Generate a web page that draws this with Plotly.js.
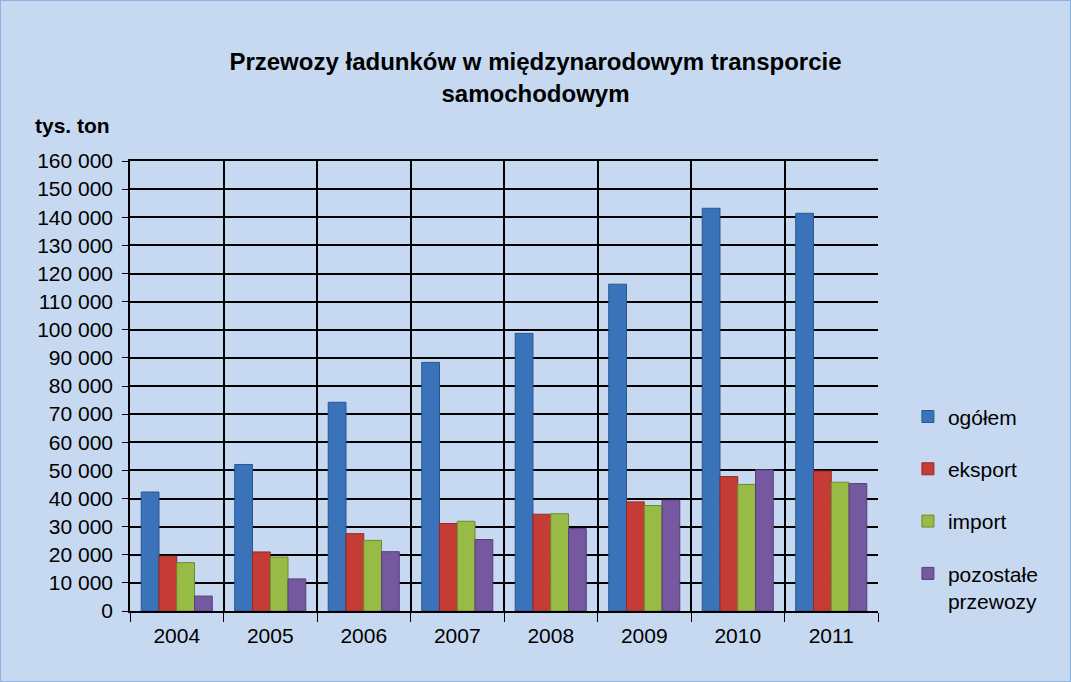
<!DOCTYPE html>
<html>
<head>
<meta charset="utf-8">
<script src="https://cdn.plot.ly/plotly-3.0.1.min.js"></script>
<style>
  body { margin: 0; background: #fff; }
  #plot { width: 1069px; height: 680px; border: 1px solid #8db3e2; }
</style>
</head>
<body>
<div id="plot"></div>
<script>
// Lata (kategorie)
let years = ["2004", "2005", "2006", "2007", "2008", "2009", "2010", "2011"];

// Wartości w tys. ton
let ogolem = [42300, 52100, 74200, 88400, 98700, 116200, 143200, 141400];
let eksport = [19500, 21000, 27500, 31100, 34400, 38800, 47800, 49800];
let importVals = [17200, 19200, 25100, 31900, 34600, 37500, 45000, 45800];
let pozostale = [5300, 11400, 21100, 25400, 29300, 39400, 50200, 45300];

let seriesNames = ["ogółem", "eksport", "import", "pozostałe<br>przewozy"];
let seriesColors = ["#3b73bb", "#c53c37", "#98bb45", "#7558a0"];
let seriesLines = ["#2a5590", "#922a27", "#6f8a30", "#553f78"];
let seriesValues = [ogolem, eksport, importVals, pozostale];

let data = seriesValues.map((vals, i) => ({
  x: years,
  y: vals,
  name: seriesNames[i],
  type: "bar",
  legendgroup: "g" + i,
  marker: { color: seriesColors[i], line: { color: seriesLines[i], width: 1 } }
}));

let font = "Liberation Sans, Arial, sans-serif";

let layout = {
  width: 1069,
  height: 680,
  paper_bgcolor: "#c6d9f0",
  plot_bgcolor: "#c6d9f0",
  separators: ", ",
  font: { family: font, size: 21, color: "#000" },
  title: {
    text: "<b>Przewozy ładunków w międzynarodowym transporcie<br>samochodowym</b>",
    font: { family: font, size: 24, color: "#000" },
    x: 0.5, xanchor: "center",
    y: 0.898, yanchor: "middle"
  },
  barmode: "group",
  bargap: 0.24,
  bargroupgap: 0,
  margin: { l: 129, r: 192, t: 160, b: 70, pad: 0 },
  xaxis: {
    type: "category",
    tickson: "boundaries",
    showgrid: true,
    gridcolor: "#000",
    gridwidth: 1.5,
    ticks: "outside",
    ticklen: 9,
    tickcolor: "#000",
    ticklabelstandoff: 5,
    showline: true,
    linecolor: "#000",
    linewidth: 1.5,
    mirror: true,
    tickfont: { size: 21 }
  },
  yaxis: {
    range: [0, 160000],
    dtick: 10000,
    tickformat: ",d",
    showgrid: true,
    gridcolor: "#000",
    gridwidth: 1.5,
    ticks: "outside",
    ticklen: 6,
    tickcolor: "#000",
    ticklabelstandoff: 5,
    showline: true,
    linecolor: "#000",
    linewidth: 1.5,
    zeroline: false,
    tickfont: { size: 21 }
  },
  legend: {
    x: 1.04, xanchor: "left",
    y: 0.227, yanchor: "middle",
    bgcolor: "rgba(0,0,0,0)",
    font: { size: 21 },
    tracegroupgap: 22,
    itemwidth: 30,
    valign: "top"
  },
  annotations: [{
    text: "<b>tys. ton</b>",
    xref: "paper", yref: "paper",
    x: -0.13, xanchor: "left",
    y: 1.078, yanchor: "middle",
    showarrow: false,
    font: { size: 21 }
  }]
};

Plotly.newPlot("plot", data, layout, { displayModeBar: false });
</script>
</body>
</html>
